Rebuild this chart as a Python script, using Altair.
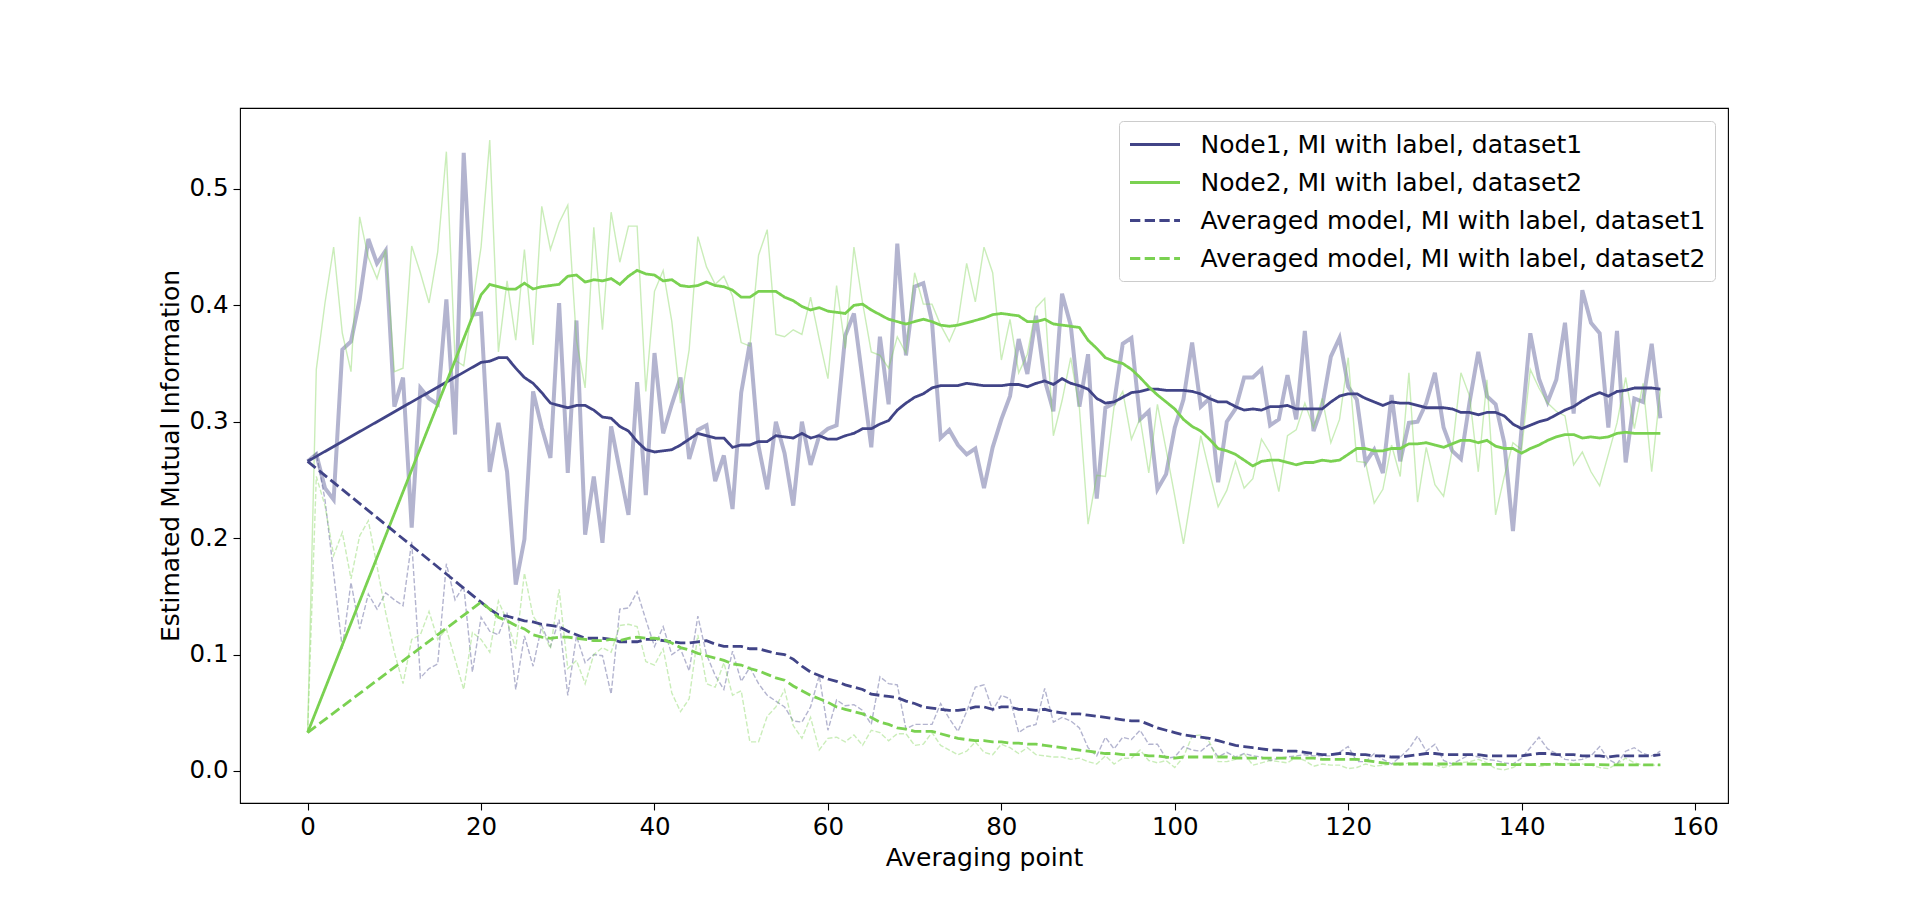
import altair as alt
import pandas as pd

# ---------------- data ----------------
RAW_X = list(range(157))
SMOOTH_X = [0] + list(range(20, 157))

NODE1_RAW = [0.266, 0.272, 0.243, 0.233, 0.362, 0.369, 0.405, 0.457, 0.436, 0.447,
             0.313, 0.338, 0.209, 0.329, 0.320, 0.315, 0.405, 0.289, 0.531, 0.392,
             0.393, 0.257, 0.299, 0.257, 0.160, 0.199, 0.326, 0.295, 0.269, 0.402,
             0.256, 0.387, 0.203, 0.253, 0.196, 0.296, 0.258, 0.220, 0.334, 0.237,
             0.359, 0.290, 0.315, 0.338, 0.268, 0.293, 0.297, 0.249, 0.271, 0.225,
             0.325, 0.368, 0.279, 0.242, 0.300, 0.273, 0.228, 0.300, 0.263, 0.288,
             0.294, 0.297, 0.374, 0.393, 0.336, 0.278, 0.373, 0.315, 0.453, 0.357,
             0.416, 0.419, 0.386, 0.286, 0.293, 0.280, 0.272, 0.277, 0.243, 0.278,
             0.302, 0.322, 0.371, 0.341, 0.391, 0.336, 0.309, 0.410, 0.383, 0.313,
             0.358, 0.234, 0.312, 0.316, 0.367, 0.372, 0.302, 0.309, 0.242, 0.255,
             0.295, 0.319, 0.368, 0.313, 0.320, 0.248, 0.300, 0.311, 0.338, 0.338,
             0.345, 0.297, 0.302, 0.340, 0.302, 0.378, 0.292, 0.313, 0.356, 0.372,
             0.330, 0.319, 0.265, 0.276, 0.256, 0.323, 0.266, 0.299, 0.300, 0.316,
             0.342, 0.295, 0.275, 0.268, 0.317, 0.360, 0.322, 0.315, 0.282, 0.206,
             0.295, 0.376, 0.337, 0.317, 0.336, 0.385, 0.307, 0.413, 0.385, 0.376,
             0.295, 0.378, 0.265, 0.320, 0.317, 0.367, 0.303]

NODE2_RAW = [0.033, 0.345, 0.402, 0.450, 0.376, 0.343, 0.476, 0.441, 0.423, 0.448,
             0.343, 0.346, 0.451, 0.428, 0.402, 0.446, 0.532, 0.353, 0.348, 0.400,
             0.450, 0.542, 0.360, 0.421, 0.370, 0.448, 0.366, 0.485, 0.448, 0.471,
             0.486, 0.370, 0.329, 0.467, 0.379, 0.480, 0.437, 0.468, 0.468, 0.326,
             0.412, 0.430, 0.386, 0.316, 0.362, 0.459, 0.433, 0.418, 0.425, 0.408,
             0.368, 0.365, 0.443, 0.465, 0.375, 0.373, 0.379, 0.375, 0.407, 0.371,
             0.337, 0.417, 0.363, 0.450, 0.402, 0.360, 0.357, 0.346, 0.373, 0.359,
             0.428, 0.401, 0.401, 0.383, 0.369, 0.386, 0.436, 0.403, 0.450, 0.428,
             0.353, 0.388, 0.342, 0.358, 0.398, 0.406, 0.288, 0.318, 0.355, 0.312,
             0.212, 0.254, 0.253, 0.313, 0.326, 0.285, 0.303, 0.256, 0.315, 0.276,
             0.236, 0.195, 0.241, 0.288, 0.257, 0.227, 0.241, 0.266, 0.243, 0.251,
             0.285, 0.273, 0.240, 0.288, 0.293, 0.316, 0.295, 0.320, 0.282, 0.302,
             0.355, 0.266, 0.265, 0.230, 0.242, 0.280, 0.253, 0.342, 0.231, 0.278,
             0.246, 0.236, 0.276, 0.342, 0.322, 0.257, 0.336, 0.220, 0.253, 0.282,
             0.276, 0.345, 0.329, 0.316, 0.309, 0.305, 0.263, 0.274, 0.257, 0.245,
             0.272, 0.299, 0.338, 0.294, 0.333, 0.257, 0.328]

AVG1_RAW = [0.266, 0.273, 0.233, 0.170, 0.105, 0.162, 0.122, 0.152, 0.139, 0.153,
            0.147, 0.142, 0.197, 0.080, 0.088, 0.092, 0.178, 0.147, 0.159, 0.085,
            0.132, 0.120, 0.117, 0.136, 0.070, 0.116, 0.090, 0.125, 0.107, 0.130,
            0.065, 0.116, 0.093, 0.100, 0.099, 0.066, 0.139, 0.140, 0.154, 0.130,
            0.107, 0.124, 0.100, 0.105, 0.086, 0.133, 0.100, 0.082, 0.070, 0.103,
            0.077, 0.089, 0.075, 0.065, 0.060, 0.055, 0.043, 0.042, 0.055, 0.082,
            0.035, 0.061, 0.056, 0.057, 0.052, 0.040, 0.081, 0.075, 0.074, 0.036,
            0.040, 0.040, 0.040, 0.058, 0.045, 0.034, 0.051, 0.072, 0.074, 0.052,
            0.065, 0.062, 0.033, 0.038, 0.040, 0.071, 0.042, 0.046, 0.043, 0.037,
            0.020, 0.013, 0.029, 0.019, 0.029, 0.027, 0.035, 0.023, 0.023, 0.011,
            0.012, 0.021, 0.018, 0.017, 0.023, 0.012, 0.016, 0.012, 0.015, 0.013,
            0.012, 0.009, 0.011, 0.012, 0.013, 0.014, 0.013, 0.013, 0.013, 0.016,
            0.021, 0.008, 0.008, 0.015, 0.010, 0.006, 0.012, 0.019, 0.030, 0.017,
            0.023, 0.009, 0.006, 0.010, 0.014, 0.012, 0.010, 0.009, 0.007, 0.006,
            0.011, 0.020, 0.029, 0.019, 0.015, 0.010, 0.009, 0.010, 0.013, 0.021,
            0.010, 0.006, 0.017, 0.020, 0.015, 0.013, 0.017]

AVG2_RAW = [0.033, 0.253, 0.228, 0.185, 0.205, 0.165, 0.202, 0.215, 0.176, 0.136,
            0.102, 0.075, 0.113, 0.117, 0.137, 0.113, 0.122, 0.096, 0.070, 0.119,
            0.113, 0.102, 0.146, 0.129, 0.105, 0.170, 0.133, 0.122, 0.105, 0.156,
            0.088, 0.095, 0.075, 0.100, 0.106, 0.102, 0.125, 0.126, 0.124, 0.094,
            0.091, 0.105, 0.067, 0.051, 0.062, 0.117, 0.075, 0.072, 0.093, 0.065,
            0.069, 0.025, 0.025, 0.047, 0.055, 0.070, 0.039, 0.028, 0.046, 0.018,
            0.028, 0.029, 0.025, 0.031, 0.022, 0.035, 0.033, 0.026, 0.032, 0.032,
            0.022, 0.023, 0.033, 0.022, 0.018, 0.014, 0.017, 0.025, 0.016, 0.014,
            0.023, 0.020, 0.015, 0.020, 0.014, 0.013, 0.012, 0.012, 0.010, 0.011,
            0.008, 0.006, 0.013, 0.006, 0.011, 0.011, 0.018, 0.009, 0.007, 0.009,
            0.003, 0.012, 0.030, 0.031, 0.025, 0.008, 0.008, 0.010, 0.015, 0.005,
            0.007, 0.009, 0.008, 0.007, 0.012, 0.009, 0.004, 0.006, 0.005, 0.005,
            0.002, 0.003, 0.006, 0.004, 0.005, 0.006, 0.005, 0.007, 0.007, 0.005,
            0.005, 0.003, 0.005, 0.007, 0.008, 0.010, 0.007, 0.002, 0.001, 0.003,
            0.007, 0.006, 0.004, 0.005, 0.007, 0.006, 0.007, 0.006, 0.005, 0.003,
            0.002, 0.006, 0.011, 0.007, 0.005, 0.005, 0.005]

NODE1_SMOOTH = [0.266,
                0.351, 0.352, 0.355, 0.355, 0.346, 0.338, 0.333, 0.325, 0.316, 0.314,
                0.312, 0.314, 0.314, 0.310, 0.304, 0.303, 0.296, 0.292, 0.283, 0.276,
                0.274, 0.275, 0.276, 0.280, 0.285, 0.290, 0.288, 0.286, 0.286, 0.278,
                0.280, 0.280, 0.283, 0.283, 0.288, 0.287, 0.286, 0.290, 0.286, 0.288,
                0.285, 0.285, 0.288, 0.290, 0.294, 0.294, 0.298, 0.301, 0.310, 0.316,
                0.321, 0.324, 0.329, 0.331, 0.331, 0.331, 0.333, 0.332, 0.331, 0.331,
                0.331, 0.332, 0.332, 0.330, 0.333, 0.335, 0.332, 0.337, 0.333, 0.331,
                0.328, 0.320, 0.316, 0.317, 0.321, 0.325, 0.326, 0.328, 0.328, 0.327,
                0.327, 0.327, 0.326, 0.324, 0.320, 0.317, 0.317, 0.313, 0.310, 0.311,
                0.310, 0.313, 0.313, 0.314, 0.311, 0.311, 0.311, 0.311, 0.317, 0.322,
                0.324, 0.324, 0.320, 0.317, 0.314, 0.317, 0.316, 0.316, 0.314, 0.312,
                0.312, 0.312, 0.311, 0.308, 0.308, 0.306, 0.308, 0.308, 0.305, 0.298,
                0.294, 0.297, 0.300, 0.302, 0.306, 0.310, 0.313, 0.318, 0.322, 0.325,
                0.322, 0.326, 0.327, 0.329, 0.329, 0.329, 0.328]

NODE2_SMOOTH = [0.033,
                0.409, 0.418, 0.416, 0.414, 0.414, 0.419, 0.414, 0.416, 0.417, 0.418,
                0.425, 0.426, 0.420, 0.422, 0.421, 0.423, 0.418, 0.425, 0.430, 0.427,
                0.426, 0.421, 0.422, 0.417, 0.416, 0.417, 0.420, 0.417, 0.416, 0.413,
                0.407, 0.407, 0.412, 0.412, 0.412, 0.407, 0.404, 0.399, 0.396, 0.398,
                0.395, 0.394, 0.393, 0.400, 0.401, 0.396, 0.392, 0.388, 0.386, 0.384,
                0.386, 0.388, 0.386, 0.383, 0.382, 0.383, 0.385, 0.387, 0.389, 0.392,
                0.393, 0.392, 0.391, 0.386, 0.386, 0.388, 0.384, 0.383, 0.382, 0.381,
                0.370, 0.363, 0.355, 0.352, 0.350, 0.345, 0.338, 0.330, 0.323, 0.317,
                0.311, 0.302, 0.296, 0.292, 0.285, 0.277, 0.275, 0.272, 0.267, 0.262,
                0.266, 0.267, 0.267, 0.265, 0.263, 0.265, 0.265, 0.267, 0.266, 0.267,
                0.272, 0.277, 0.277, 0.275, 0.275, 0.277, 0.277, 0.281, 0.281, 0.282,
                0.280, 0.278, 0.281, 0.284, 0.284, 0.282, 0.284, 0.279, 0.277, 0.277,
                0.273, 0.277, 0.280, 0.284, 0.287, 0.289, 0.289, 0.286, 0.287, 0.286,
                0.287, 0.290, 0.291, 0.290, 0.290, 0.290, 0.290]

AVG1_SMOOTH = [0.266,
               0.145, 0.139, 0.134, 0.133, 0.131, 0.129, 0.128, 0.126, 0.125, 0.124,
               0.120, 0.117, 0.114, 0.114, 0.114, 0.113, 0.111, 0.111, 0.111, 0.113,
               0.113, 0.112, 0.111, 0.110, 0.110, 0.111, 0.112, 0.109, 0.107, 0.107,
               0.107, 0.105, 0.105, 0.103, 0.101, 0.100, 0.096, 0.090, 0.085, 0.082,
               0.079, 0.077, 0.074, 0.072, 0.070, 0.066, 0.065, 0.064, 0.063, 0.060,
               0.058, 0.055, 0.054, 0.053, 0.052, 0.052, 0.053, 0.055, 0.055, 0.053,
               0.055, 0.055, 0.053, 0.053, 0.052, 0.053, 0.051, 0.050, 0.049, 0.049,
               0.048, 0.047, 0.046, 0.045, 0.044, 0.043, 0.043, 0.040, 0.037, 0.035,
               0.033, 0.031, 0.030, 0.029, 0.028, 0.026, 0.024, 0.022, 0.021, 0.020,
               0.019, 0.018, 0.018, 0.017, 0.017, 0.016, 0.015, 0.014, 0.014, 0.015,
               0.015, 0.014, 0.014, 0.013, 0.013, 0.012, 0.012, 0.013, 0.014, 0.015,
               0.015, 0.014, 0.014, 0.014, 0.014, 0.014, 0.013, 0.013, 0.013, 0.013,
               0.013, 0.014, 0.015, 0.015, 0.014, 0.014, 0.014, 0.013, 0.013, 0.013,
               0.012, 0.013, 0.013, 0.013, 0.013, 0.013, 0.014]

AVG2_SMOOTH = [0.033,
               0.145, 0.139, 0.132, 0.129, 0.125, 0.122, 0.117, 0.115, 0.114, 0.115,
               0.115, 0.114, 0.113, 0.112, 0.112, 0.113, 0.112, 0.114, 0.115, 0.114,
               0.114, 0.113, 0.110, 0.106, 0.104, 0.101, 0.099, 0.097, 0.095, 0.092,
               0.091, 0.088, 0.086, 0.083, 0.080, 0.078, 0.073, 0.069, 0.065, 0.062,
               0.059, 0.055, 0.053, 0.051, 0.049, 0.046, 0.042, 0.040, 0.037, 0.036,
               0.034, 0.034, 0.034, 0.032, 0.030, 0.028, 0.027, 0.026, 0.026, 0.025,
               0.025, 0.024, 0.024, 0.023, 0.023, 0.022, 0.021, 0.020, 0.019, 0.018,
               0.017, 0.016, 0.015, 0.015, 0.014, 0.014, 0.014, 0.013, 0.013, 0.012,
               0.011, 0.012, 0.012, 0.012, 0.012, 0.012, 0.012, 0.011, 0.011, 0.011,
               0.011, 0.011, 0.011, 0.011, 0.011, 0.011, 0.011, 0.010, 0.010, 0.010,
               0.010, 0.010, 0.009, 0.008, 0.007, 0.006, 0.006, 0.006, 0.006, 0.006,
               0.006, 0.006, 0.006, 0.006, 0.006, 0.0058, 0.0057, 0.0056, 0.0055, 0.0055,
               0.0054, 0.0055, 0.0056, 0.0056, 0.0056, 0.0055, 0.0055, 0.0054, 0.0054, 0.0054,
               0.0053, 0.0053, 0.0053, 0.0053, 0.0052, 0.0052, 0.0052]

LABELS = ["Node1, MI with label, dataset1",
          "Node2, MI with label, dataset2",
          "Averaged model, MI with label, dataset1",
          "Averaged model, MI with label, dataset2"]
X_TICKS = [0, 20, 40, 60, 80, 100, 120, 140, 160]
Y_TICKS = [0.0, 0.1, 0.2, 0.3, 0.4, 0.5]

NAVY = "#414487"
GREEN = "#7AD151"

for arr in (NODE1_RAW, NODE2_RAW, AVG1_RAW, AVG2_RAW):
    assert len(arr) == len(RAW_X), len(arr)
for arr in (NODE1_SMOOTH, NODE2_SMOOTH, AVG1_SMOOTH, AVG2_SMOOTH):
    assert len(arr) == len(SMOOTH_X), len(arr)

# ---------------- tables ----------------
raw_rows = []
for key, vals in (("n1", NODE1_RAW), ("n2", NODE2_RAW), ("a1", AVG1_RAW), ("a2", AVG2_RAW)):
    for x, v in zip(RAW_X, vals):
        raw_rows.append({"x": x, "v": v, "key": key})
raw_df = pd.DataFrame(raw_rows)

smooth_rows = []
for lab, vals in zip(LABELS, (NODE1_SMOOTH, NODE2_SMOOTH, AVG1_SMOOTH, AVG2_SMOOTH)):
    for x, v in zip(SMOOTH_X, vals):
        smooth_rows.append({"x": x, "v": v, "series": lab})
smooth_df = pd.DataFrame(smooth_rows)

PLOT_W, PLOT_H = 1488, 695


def x_enc():
    return alt.X("x:Q",
                 scale=alt.Scale(domain=[-7.8, 163.8], nice=False, zero=False),
                 axis=alt.Axis(values=X_TICKS, format="d", title="Averaging point",
                               labelFlush=False, labelOverlap=False,
                               titleX=PLOT_W / 2, titleY=54, titleAlign="center",
                               titleBaseline="middle", labelPadding=5))


def y_enc():
    return alt.Y("v:Q",
                 scale=alt.Scale(domain=[-0.0275, 0.5695], nice=False, zero=False),
                 axis=alt.Axis(values=Y_TICKS, format=".1f",
                               title="Estimated Mutual Information",
                               labelFlush=False, labelOverlap=False,
                               titleX=-70, titleY=PLOT_H / 2, titleAngle=270,
                               titleAlign="center", titleBaseline="middle",
                               labelPadding=5))


def raw_layer(key, color, width, dash=None):
    kw = dict(color=color, strokeWidth=width, opacity=0.4)
    if dash is not None:
        kw["strokeDash"] = dash
    return (alt.Chart(raw_df)
            .transform_filter(alt.datum.key == key)
            .mark_line(**kw)
            .encode(x=x_enc(), y=y_enc()))


THIN_DASH = [5.1, 2.2]
THICK_DASH = [10.3, 4.4]

raw_layers = [
    raw_layer("n1", NAVY, 4.0),
    raw_layer("n2", GREEN, 1.4),
    raw_layer("a1", NAVY, 1.4, THIN_DASH),
    raw_layer("a2", GREEN, 1.4, THIN_DASH),
]

legend = alt.Legend(title=None)
smooth = alt.Chart(smooth_df).mark_line(strokeWidth=2.8).encode(
    x=x_enc(),
    y=y_enc(),
    color=alt.Color("series:N",
                    scale=alt.Scale(domain=LABELS, range=[NAVY, GREEN, NAVY, GREEN]),
                    legend=legend),
    strokeDash=alt.StrokeDash("series:N",
                              scale=alt.Scale(domain=LABELS,
                                              range=[[1, 0], [1, 0], THICK_DASH, THICK_DASH]),
                              legend=legend),
)

chart = (alt.layer(*raw_layers, smooth)
         .properties(width=PLOT_W, height=PLOT_H,
                     autosize=alt.AutoSizeParams(type="none"),
                     padding={"left": 232, "top": 100, "right": 150, "bottom": 80})
         .configure_view(stroke="black", strokeWidth=1.1)
         .configure_axis(grid=False, domain=False, tickColor="black", tickWidth=1.1,
                         tickSize=7, labelFont="DejaVu Sans", labelFontSize=24.5,
                         labelColor="black", titleFont="DejaVu Sans", titleFontSize=25,
                         titleFontWeight="normal", titleColor="black")
         .configure_legend(orient="top-right", offset=13, padding=9.5, rowPadding=11,
                           fillColor="white", strokeColor="#cccccc", cornerRadius=4,
                           labelFont="DejaVu Sans", labelFontSize=25, labelColor="black",
                           labelLimit=1000, symbolType="M-1,0H3", symbolSize=625,
                           symbolStrokeWidth=2.8, labelOffset=44)
         )

chart.save("out.html", embed_options={"renderer": "svg", "actions": False})
